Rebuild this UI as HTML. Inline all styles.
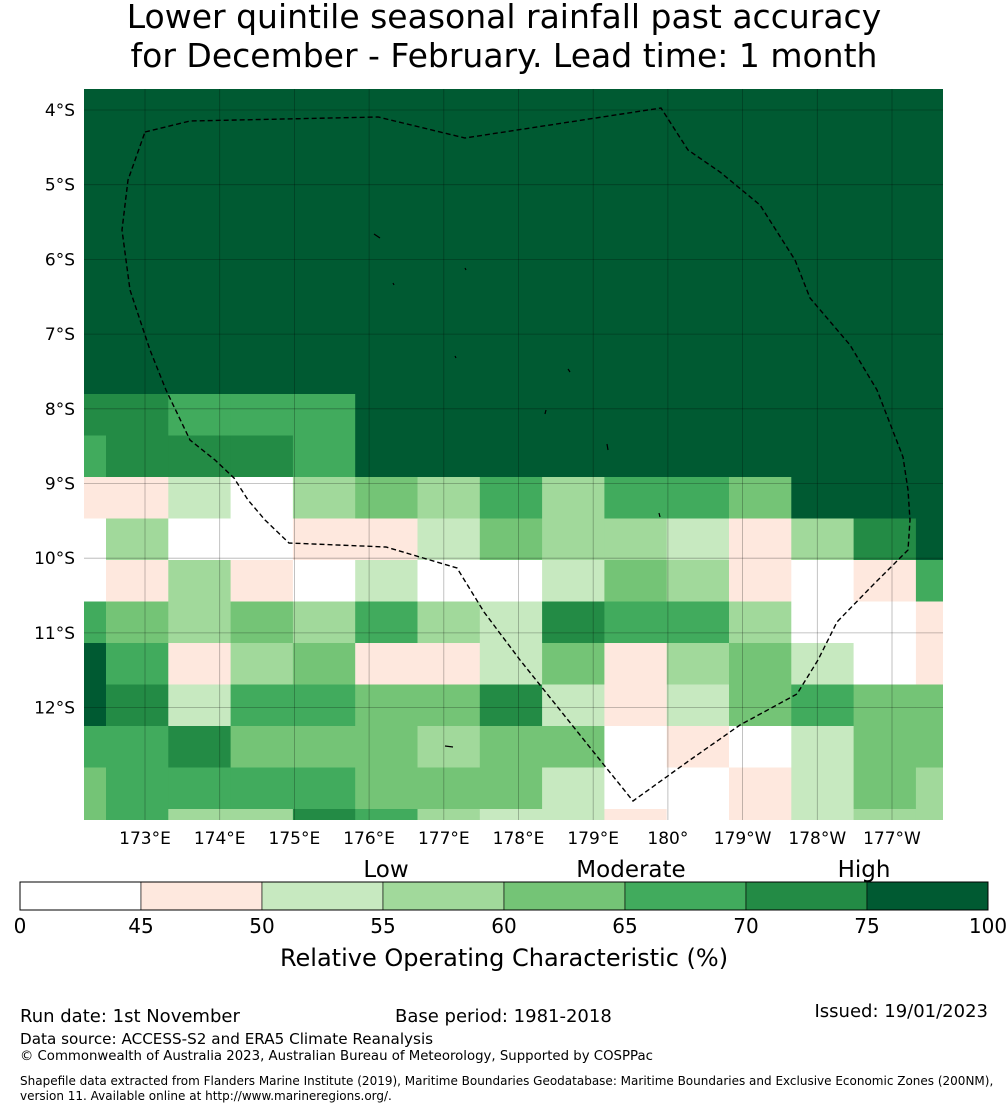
<!DOCTYPE html>
<html><head><meta charset="utf-8"><style>
html,body{margin:0;padding:0;background:#fff;}
svg{display:block;font-family:"DejaVu Sans","Liberation Sans",sans-serif;}
</style></head><body>
<svg id="chart" width="1008" height="1110" viewBox="0 0 1008 1110" xmlns="http://www.w3.org/2000/svg">
<g>
<text x="504" y="28" font-size="33" text-anchor="middle">Lower quintile seasonal rainfall past accuracy</text>
<text x="504" y="67" font-size="33" text-anchor="middle">for December - February. Lead time: 1 month</text>
</g>
<g id="cells"></g>
<g id="grid"></g>
<path fill="none" stroke="#000" stroke-width="1.4" stroke-dasharray="5,3"
 d="M145,132 L190,121 L378,117 L465,138 L661,108 L688,150 L720,172 L760,205 L795,260 L810,298 L850,345 L877,390 L903,457 L908,490 L910,520 L908,550 L870,588 L837,622 L818,660 L797,694 L740,725 L690,760 L633,801 L600,760 L560,710 L520,660 L484,612 L457,568 L386,547 L289,543 L265,520 L248,500 L234,478 L215,460 L190,440 L166,390 L150,350 L130,290 L122,230 L128,180 Z"/>
<g stroke="#000" stroke-width="1.2" fill="none">
<path d="M374,234 L380,238"/><path d="M465,268 L466,270"/><path d="M393,283 L394,285"/><path d="M455,356 L456,358"/><path d="M568,369 L570,372"/><path d="M546,410 L545,414"/><path d="M607,444 L608,450"/><path d="M659,513 L660,517"/><path d="M445,746 L453,747"/>
</g>
<g id="xticks" font-size="17" text-anchor="middle"></g>
<g id="yticks" font-size="17" text-anchor="end"></g>
<g id="cbar"></g>
<g font-size="23" text-anchor="middle">
<text x="386" y="877">Low</text><text x="631" y="877">Moderate</text><text x="864" y="877">High</text>
</g>
<text x="504" y="966" font-size="24" text-anchor="middle">Relative Operating Characteristic (%)</text>
<g>
<text x="20" y="1022" font-size="18">Run date: 1st November</text>
<text x="395" y="1022" font-size="18">Base period: 1981-2018</text>
<text x="988" y="1017" font-size="18" text-anchor="end">Issued: 19/01/2023</text>
<text x="20" y="1044" font-size="15.2">Data source: ACCESS-S2 and ERA5 Climate Reanalysis</text>
<text x="20" y="1060" font-size="13.3">© Commonwealth of Australia 2023, Australian Bureau of Meteorology, Supported by COSPPac</text>
<text x="20" y="1085" font-size="12">Shapefile data extracted from Flanders Marine Institute (2019), Maritime Boundaries Geodatabase: Maritime Boundaries and Exclusive Economic Zones (200NM),</text>
<text x="20" y="1100" font-size="12">version 11. Available online at http://www.marineregions.org/.</text>
</g>
</svg>
<script>
const xTickLabels = ["173°E","174°E","175°E","176°E","177°E","178°E","179°E","180°","179°W","178°W","177°W"];
const xTickLons = [173,174,175,176,177,178,179,180,181,182,183];
const yTickLabels = ["4°S","5°S","6°S","7°S","8°S","9°S","10°S","11°S","12°S"];
const yTickLats = [4,5,6,7,8,9,10,11,12];
const cbarBounds = [0,45,50,55,60,65,70,75,100];
const cbarColors = ["#ffffff","#fee8de","#c7e9c0","#a1d99b","#74c476","#41ab5d","#238b45","#005a32"];
const D=85;
const rowTop = [D,D,D,D,D,D,D,D,D,D,D,D,D,D,D];
const row1 = [72,72,67,67,67,D,D,D,D,D,D,D,D,D,D];
const row2 = [67,72,72,72,67,D,D,D,D,D,D,D,D,D,D];
const row3 = [47,47,52,40,57,62,57,67,57,67,67,62,D,D,D];
const row4 = [40,57,40,40,47,47,52,62,57,57,52,47,57,72,D];
const row5 = [40,47,57,47,40,52,40,40,52,62,57,47,40,47,67];
const row6 = [67,62,57,62,57,67,57,52,72,67,67,57,40,40,47];
const row7 = [D,67,47,57,62,47,47,52,62,47,57,62,52,40,47];
const row8 = [D,72,52,67,67,62,62,72,52,47,52,62,67,62,62];
const row9 = [67,67,72,62,62,62,57,62,62,40,47,40,52,62,62];
const row10 = [62,67,67,67,67,62,62,62,52,40,40,47,52,62,57];
const row11 = [62,67,57,57,72,67,57,52,52,47,40,47,52,57,57];
const rows = [rowTop,rowTop,rowTop,rowTop,rowTop,rowTop,rowTop,rowTop,row1,row2,row3,row4,row5,row6,row7,row8,row9,row10,row11];

const NS="http://www.w3.org/2000/svg";
const X0=84,X1=943,Y0=89,Y1=820;
function lonX(l){return 145+(l-173)*74.7;}
function latY(l){return 110+(l-4)*74.7;}
function colX(i){return Math.min(X1,Math.max(X0,106+(i-1)*62.3));}
function rowY(j){return Math.min(Y1,Math.max(Y0,394+(j-8)*41.5));}
function colorOf(v){for(let k=0;k<cbarColors.length;k++){if(v<cbarBounds[k+1])return cbarColors[k];}return cbarColors[cbarColors.length-1];}
function mk(tag,attrs,parent){const e=document.createElementNS(NS,tag);for(const k in attrs)e.setAttribute(k,attrs[k]);parent.appendChild(e);return e;}

const cells=document.getElementById('cells');
rows.forEach((r,j)=>{r.forEach((v,i)=>{
 const x=colX(i),x2=colX(i+1),y=rowY(j),y2=rowY(j+1);
 if(x2<=x||y2<=y)return;
 const c=mk('rect',{x:x,y:y,width:Math.min(x2-x+0.5,X1-x),height:Math.min(y2-y+0.5,Y1-y),fill:colorOf(v)},cells);
 
 
});});

const grid=document.getElementById('grid');
xTickLons.forEach(l=>{const g=mk('line',{x1:lonX(l),x2:lonX(l),y1:Y0,y2:Y1,stroke:"#000","stroke-opacity":0.3,"stroke-width":0.8},grid);
 });
yTickLats.forEach(l=>{const g=mk('line',{x1:X0,x2:X1,y1:latY(l),y2:latY(l),stroke:"#000","stroke-opacity":0.3,"stroke-width":0.8},grid);
 });

const xt=document.getElementById('xticks');
xTickLabels.forEach((s,k)=>{const t=mk('text',{x:lonX(xTickLons[k]),y:844},xt);t.textContent=s;
 });
const yt=document.getElementById('yticks');
yTickLabels.forEach((s,k)=>{const t=mk('text',{x:75,y:latY(yTickLats[k])+6},yt);t.textContent=s;
 });

const cb=document.getElementById('cbar');
const CB0=20,CBW=121;
cbarColors.forEach((c,k)=>{const r=mk('rect',{x:CB0+k*CBW,y:882,width:CBW,height:28,fill:c,stroke:"#000","stroke-width":0.6},cb);
 });
mk('rect',{x:CB0,y:882,width:CBW*8,height:28,fill:"none",stroke:"#000","stroke-width":1},cb);
cbarBounds.forEach((b,k)=>{const t=mk('text',{x:CB0+k*CBW,y:933,"font-size":20,"text-anchor":"middle"},cb);t.textContent=b;
 });
</script>
</body></html>
